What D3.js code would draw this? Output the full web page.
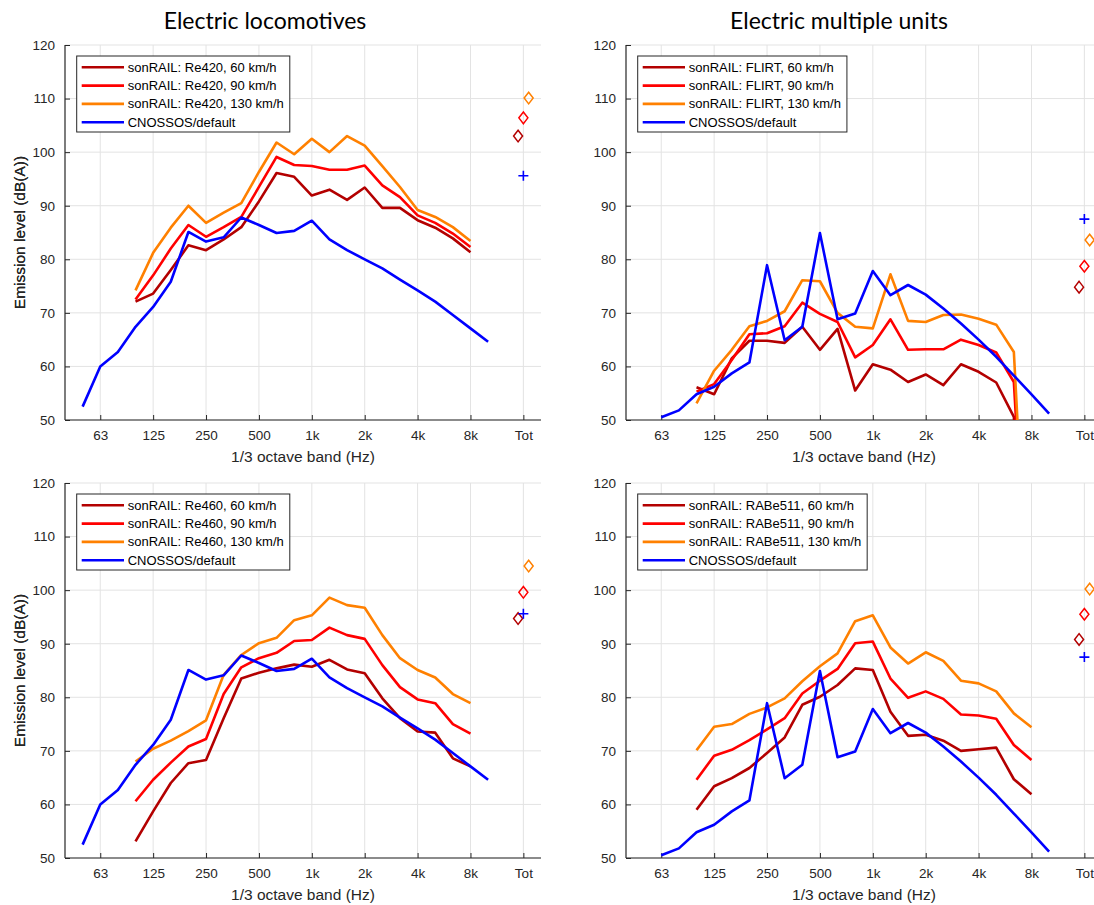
<!DOCTYPE html>
<html>
<head>
<meta charset="utf-8">
<script src="https://cdn.jsdelivr.net/npm/d3@7"></script>
<style>
  body { margin: 0; background: #fff; }
  svg { display: block; }
  text { font-family: "Liberation Sans", Arial, sans-serif; }
</style>
</head>
<body>
<svg id="chart" width="1094" height="905"></svg>
<script>
// 1/3 octave bands, index 0 = 50 Hz ... 23 = 10 kHz; "Tot" sits at index 25
const bands = ['50', '63', '80', '100', '125', '160', '200', '250', '315', '400', '500', '630',
  '800', '1k', '1.25k', '1.6k', '2k', '2.5k', '3.15k', '4k', '5k', '6.3k', '8k', '10k'];
const xTickIdx = [1, 4, 7, 10, 13, 16, 19, 22, 25];
const xTickLabels = ['63', '125', '250', '500', '1k', '2k', '4k', '8k', 'Tot'];
const yTicks = [50, 60, 70, 80, 90, 100, 110, 120];
const speeds = ['60 km/h', '90 km/h', '130 km/h'];

// CNOSSOS default spectra (locomotives start at 50 Hz, EMUs at 63 Hz)
const cnossosLoco = [52.5, 60.0, 62.7, 67.4, 71.1, 75.8, 85.1, 83.3, 84.1, 87.8, 86.4, 84.9,
  85.3, 87.2, 83.7, 81.7, 80.0, 78.3, 76.2, 74.2, 72.1, 69.6, 67.1, 64.6];
const cnossosLocoTot = 95.6;
const cnossosEmu = [50.5, 51.8, 54.8, 56.2, 58.7, 60.75, 78.9, 64.9, 67.4, 84.9, 68.8,
  69.9, 77.8, 73.3, 75.2, 73.4, 70.8, 68.0, 65.0, 61.8, 58.3, 54.8, 51.2];
const cnossosEmuTot = 87.5;

// sonRAIL spectra, 100 Hz .. 8 kHz
const re420_60 = [72.1, 73.6, 78.0, 82.6, 81.7, 83.7, 86.0, 90.8, 96.1, 95.4, 91.9, 93.0, 91.1, 93.4, 89.6, 89.6, 87.3, 85.9, 83.9, 81.3];
const re420_90 = [72.5, 77.0, 82.0, 86.4, 84.2, 86.0, 87.9, 93.5, 99.1, 97.6, 97.4, 96.7, 96.7, 97.5, 93.8, 91.6, 88.2, 86.8, 84.8, 82.3];
const re420_130 = [74.2, 81.2, 85.9, 90.0, 86.8, 88.7, 90.5, 96.3, 101.8, 99.6, 102.5, 100.0, 103.0, 101.2, 97.4, 93.5, 89.2, 87.9, 86.0, 83.4];
const re420Tot = [103.0, 106.4, 110.1];

const flirt_60 = [56.1, 54.8, 61.5, 64.8, 64.8, 64.4, 67.4, 63.1, 67.0, 55.5, 60.4, 59.4, 57.1, 58.5, 56.5, 60.4, 59.0, 57.0, 50.6, 0];
const flirt_90 = [55.3, 56.7, 61.2, 66.0, 66.2, 67.5, 71.9, 69.8, 68.3, 61.7, 64.0, 68.8, 63.1, 63.2, 63.2, 65.0, 64.0, 62.6, 57.1, 0];
const flirt_130 = [53.1, 59.2, 63.1, 67.5, 68.5, 70.3, 76.1, 75.9, 70.0, 67.4, 67.1, 77.2, 68.5, 68.3, 69.6, 69.7, 68.9, 67.8, 62.7, 0];
const flirtTot = [74.8, 78.7, 83.6];

const re460_60 = [53.1, 58.7, 64.0, 67.7, 68.3, 76.1, 83.5, 84.6, 85.4, 86.1, 85.7, 87.0, 85.2, 84.5, 79.8, 76.1, 73.6, 73.4, 68.6, 67.1];
const re460_90 = [60.6, 64.6, 67.8, 70.8, 72.2, 80.6, 85.6, 87.3, 88.3, 90.5, 90.7, 93.0, 91.6, 90.9, 86.0, 81.9, 79.6, 78.9, 75.0, 73.2];
const re460_130 = [68.0, 70.4, 71.9, 73.7, 75.7, 84.2, 87.9, 90.1, 91.1, 94.4, 95.3, 98.6, 97.2, 96.7, 91.6, 87.3, 85.1, 83.7, 80.6, 78.9];
const re460Tot = [94.7, 99.6, 104.5];

const rabe511_60 = [59.0, 63.4, 64.9, 66.8, 69.6, 72.5, 78.6, 80.1, 82.3, 85.4, 85.1, 77.3, 72.8, 73.0, 71.9, 70.0, 70.3, 70.6, 64.7, 61.9];
const rabe511_90 = [64.6, 69.1, 70.2, 72.0, 74.0, 76.1, 80.7, 83.1, 85.3, 90.1, 90.4, 83.5, 79.9, 81.1, 79.7, 76.8, 76.6, 76.0, 71.1, 68.3];
const rabe511_130 = [70.1, 74.5, 75.0, 76.9, 78.1, 79.8, 83.0, 85.8, 88.2, 94.2, 95.3, 89.3, 86.3, 88.4, 86.8, 83.1, 82.6, 81.1, 77.0, 74.4];
const rabe511Tot = [90.8, 95.5, 100.2];

const sonStart = 3;      // first sonRAIL band = 100 Hz
const totIdx = 25;
const totJitter = [-0.3, 0, 0.3];
const colors = ['#b30000', '#ff0000', '#ff8000'];
const blue = '#0000ff';
const ink = '#262626';

const panels = [
  { title: 'Electric locomotives', name: 'Re420', left: 65, top: 45, tx: 265,
    son: [re420_60, re420_90, re420_130], tot: re420Tot, cn: cnossosLoco, cnStart: 0, cnTot: cnossosLocoTot },
  { title: 'Electric multiple units', name: 'FLIRT', left: 626, top: 45, tx: 839,
    son: [flirt_60, flirt_90, flirt_130], tot: flirtTot, cn: cnossosEmu, cnStart: 1, cnTot: cnossosEmuTot },
  { title: null, name: 'Re460', left: 65, top: 483,
    son: [re460_60, re460_90, re460_130], tot: re460Tot, cn: cnossosLoco, cnStart: 0, cnTot: cnossosLocoTot },
  { title: null, name: 'RABe511', left: 626, top: 483,
    son: [rabe511_60, rabe511_90, rabe511_130], tot: rabe511Tot, cn: cnossosEmu, cnStart: 1, cnTot: cnossosEmuTot },
];

const W = 476, H = 375;
const svg = d3.select('#chart');

const x = d3.scaleLinear().domain([-1, 26]).range([0, W]);
const y = d3.scaleLinear().domain([50, 120]).range([H, 0]);

panels.forEach((p, pi) => {
  const g = svg.append('g').attr('transform', `translate(${p.left},${p.top})`);

  // grid
  g.append('g').selectAll('line').data(yTicks).join('line')
    .attr('x1', 0).attr('x2', W)
    .attr('y1', d => y(d)).attr('y2', d => y(d))
    .attr('stroke', '#e3e3e3').attr('stroke-width', 1);
  g.append('g').selectAll('line').data(xTickIdx).join('line')
    .attr('x1', d => x(d)).attr('x2', d => x(d))
    .attr('y1', 0).attr('y2', H)
    .attr('stroke', '#e3e3e3').attr('stroke-width', 1);

  // axes (ticks point inward)
  const xAxis = d3.axisBottom(x).tickValues(xTickIdx)
    .tickFormat((d, i) => xTickLabels[i]).tickSize(-5).tickPadding(10);
  const gx = g.append('g').attr('transform', `translate(0,${H})`).call(xAxis);
  const yAxis = d3.axisLeft(y).tickValues(yTicks).tickSize(-5).tickPadding(10);
  const gy = g.append('g').call(yAxis);
  [gx, gy].forEach(a => {
    a.select('.domain').attr('stroke', ink).attr('stroke-width', 1.2);
    a.selectAll('.tick line').attr('stroke', ink);
    a.selectAll('.tick text').attr('fill', ink)
      .style('font-family', '"Liberation Sans", Arial, sans-serif').style('font-size', '13.5px');
  });
  gx.select('.domain').attr('d', `M0,0H${W}`);
  gy.select('.domain').attr('d', `M0,${H}V0`);

  // data
  const clipId = `clip${pi}`;
  svg.append('clipPath').attr('id', clipId)
    .append('rect').attr('x', 0).attr('y', 0).attr('width', W).attr('height', H);
  const plot = g.append('g').attr('clip-path', `url(#${clipId})`);

  const line = d3.line().x(d => x(d[0])).y(d => y(d[1]));
  p.son.forEach((s, k) => {
    plot.append('path')
      .datum(s.map((v, i) => [sonStart + i, v]))
      .attr('d', line).attr('fill', 'none')
      .attr('stroke', colors[k]).attr('stroke-width', 2.6).attr('stroke-linejoin', 'round');
  });
  plot.append('path')
    .datum(p.cn.map((v, i) => [p.cnStart + i, v]))
    .attr('d', line).attr('fill', 'none')
    .attr('stroke', blue).attr('stroke-width', 2.6).attr('stroke-linejoin', 'round');

  // totals
  p.tot.forEach((v, k) => {
    const cx = x(totIdx + totJitter[k]), cy = y(v);
    g.append('path')
      .attr('d', `M${cx},${cy - 5.8}L${cx + 4.5},${cy}L${cx},${cy + 5.8}L${cx - 4.5},${cy}Z`)
      .attr('fill', 'none').attr('stroke', colors[k]).attr('stroke-width', 1.5);
  });
  const px = x(totIdx), py = y(p.cnTot);
  g.append('path')
    .attr('d', `M${px - 5},${py}H${px + 5}M${px},${py - 5}V${py + 5}`)
    .attr('stroke', blue).attr('stroke-width', 1.6);

  // axis labels
  g.append('text')
    .attr('x', W / 2).attr('y', H + 42)
    .attr('text-anchor', 'middle').attr('fill', ink)
    .style('font-size', '15.5px')
    .text('1/3 octave band (Hz)');
  g.append('text')
    .attr('transform', `translate(${25 - p.left},${H / 2}) rotate(-90)`)
    .attr('text-anchor', 'middle').attr('fill', ink)
    .style('font-size', '15.5px')
    .text('Emission level (dB(A))');

  if (p.title) {
    svg.append('text')
      .attr('x', p.tx).attr('y', 29)
      .attr('text-anchor', 'middle').attr('fill', '#000')
      .style('font-family', 'Lato, "Liberation Sans", sans-serif').style('font-size', '23px')
      .text(p.title);
  }

  // legend
  const labels = speeds.map(s => `sonRAIL: ${p.name}, ${s}`).concat(['CNOSSOS/default']);
  const lcol = colors.concat([blue]);
  const lg = g.append('g').attr('transform', 'translate(11.7,11)');
  const box = lg.append('rect').attr('fill', '#fff').attr('stroke', ink).attr('stroke-width', 1);
  let maxW = 0;
  labels.forEach((t, i) => {
    const cy = 11.3 + i * 18.3;
    lg.append('line').attr('x1', 5).attr('x2', 47.3).attr('y1', cy).attr('y2', cy)
      .attr('stroke', lcol[i]).attr('stroke-width', 2.6);
    const tx = lg.append('text').attr('x', 51).attr('y', cy).attr('dy', '0.35em')
      .attr('fill', '#000').style('font-size', '13px').text(t);
    maxW = Math.max(maxW, tx.node().getComputedTextLength());
  });
  box.attr('x', 0).attr('y', 0).attr('width', 51 + maxW + 6).attr('height', 76);
});
</script>
</body>
</html>
